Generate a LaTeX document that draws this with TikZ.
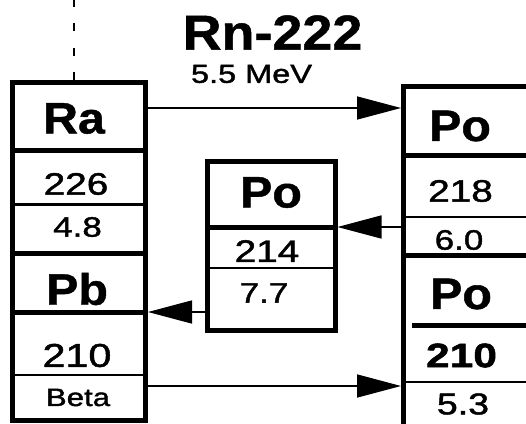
\documentclass[tikz,border=0pt]{standalone}
\usepackage{fontspec}
\setmainfont{Liberation Sans}
\newfontfamily\numfont[FakeStretch=1.25, FakeBold=1.5]{Liberation Sans}
\newfontfamily\symfont[FakeStretch=1.1, FakeBold=1]{Liberation Sans}
\usetikzlibrary{arrows.meta}

\begin{document}
\begin{tikzpicture}[x=1pt, y=-1pt,
    >={Triangle[length=44pt, width=23pt]},
    box/.style={rectangle, draw=black, line width=5pt, anchor=north west, inner sep=0pt},
    sym/.style={font=\symfont\bfseries\fontsize{44}{44}\selectfont, inner sep=0pt},
    num/.style={font=\numfont\fontsize{#1}{#1}\selectfont, inner sep=0pt},
    bnum/.style={font=\numfont\bfseries\fontsize{#1}{#1}\selectfont, inner sep=0pt},
    sepbold/.style={line width=5pt},
    septhin/.style={line width=2pt},
    arrow/.style={->, line width=1.5pt},
    dashline/.style={line width=1.5pt, dash pattern=on 8pt off 16.5pt}]
  \useasboundingbox (0,0) rectangle (526,423);
  \clip (0,0) rectangle (526,423);

  % title
  \node[font=\symfont\bfseries\fontsize{49}{49}\selectfont, inner sep=0pt] (rn) at (272.5,32.5) {Rn-222};
  \node[num=26] (rnE) at (251.5,74) {5.5 MeV};

  % outer boxes
  \node[box, minimum width=133pt, minimum height=337.5pt] (lcol) at (10,80) {};
  \node[box, minimum width=127.5pt, minimum height=168.5pt] (cbox) at (205,159) {};
  \node[box, minimum width=200pt, minimum height=400pt] (rcol) at (401,84) {};

  % separators
  \foreach \y in {150,253,312} \draw[sepbold] (lcol.west |- 0,\y) -- (lcol.east |- 0,\y);
  \draw[line width=3pt] (lcol.west |- 0,204) -- (lcol.east |- 0,204);
  \draw[septhin] (lcol.west |- 0,375) -- (lcol.east |- 0,375);
  \draw[sepbold] (cbox.west |- 0,227) -- (cbox.east |- 0,227);
  \draw[septhin] (cbox.west |- 0,268) -- (cbox.east |- 0,268);
  \foreach \y in {155,255} \draw[sepbold] (rcol.west |- 0,\y) -- (rcol.east |- 0,\y);
  \draw[sepbold] (412,325) -- (rcol.east |- 0,325);
  \foreach \y in {217,382} \draw[septhin] (rcol.west |- 0,\y) -- (rcol.east |- 0,\y);

  % left column
  \node[sym] (ra) at (74,118.5) {Ra};
  \node[num=31] (n226) at (76,184) {226};
  \node[num=28] (e48) at (77.5,227) {4.8};
  \node[sym] (pb) at (77,289) {Pb};
  \node[num=33] (n210) at (77,355.5) {210};
  \node[num=25] (beta) at (78,397.5) {Beta};

  % centre box
  \node[sym] (po214s) at (271,192.5) {Po};
  \node[num=31] (n214) at (267,251) {214};
  \node[num=28] (e77) at (264,293) {7.7};

  % right column
  \node[sym] (po218s) at (460,126) {Po};
  \node[num=31] (n218) at (460.5,191) {218};
  \node[num=28] (e60) at (459,240) {6.0};
  \node[sym] (po210s) at (461,294) {Po};
  \node[bnum=34] (n210b) at (461.5,355.5) {210};
  \node[num=30] (e53) at (463,404) {5.3};

  % connectors
  \coordinate (rntop) at (74,0);
  \draw[dashline] (lcol.north -| rntop) -- (rntop);
  \draw[arrow] (lcol.east |- 0,108) -- (rcol.west |- 0,108);
  \draw[arrow] (rcol.west |- 0,227) -- (cbox.east |- 0,227);
  \draw[arrow] (cbox.west |- 0,312) -- (lcol.east |- 0,312);
  \draw[arrow] (lcol.east |- 0,386) -- (rcol.west |- 0,386);
\end{tikzpicture}
\end{document}
